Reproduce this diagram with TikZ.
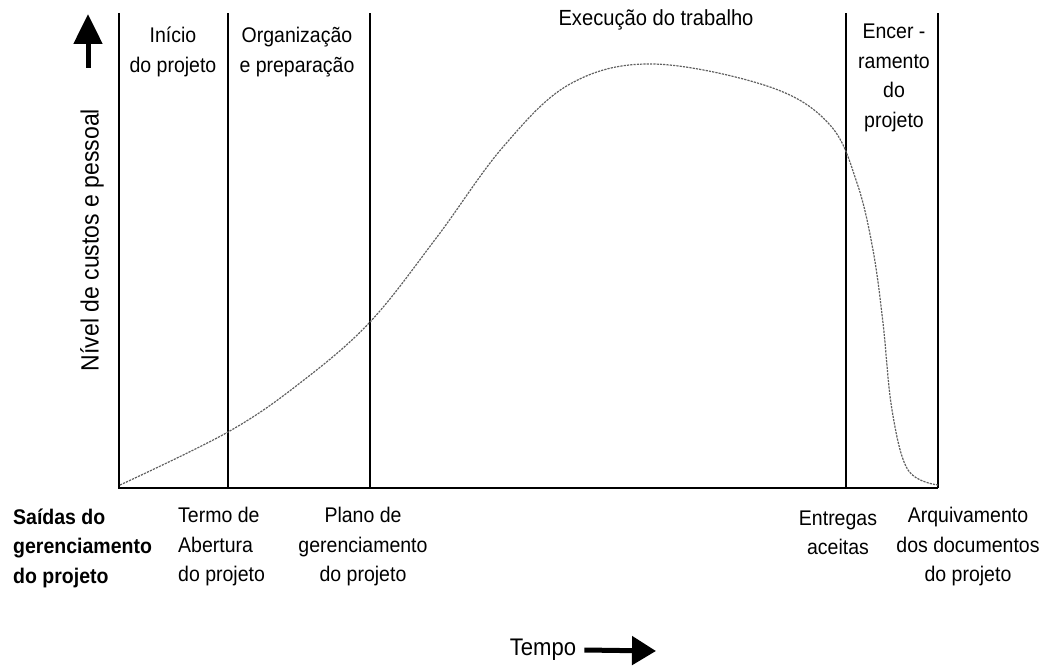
\documentclass[tikz,border=0pt]{standalone}
\usepackage{fontspec}
\setmainfont{Liberation Sans}[FakeStretch=0.92]
\usetikzlibrary{arrows.meta}
\begin{document}
\begin{tikzpicture}[x=1pt,y=1pt,
  frame/.style={line width=1.1pt, black},
  curvestyle/.style={line width=1.2pt, gray!75!black, dash pattern=on 2.2pt off 1.1pt},
  lbl/.style={inner sep=0pt, font=\fontsize{21.2}{29.5}\selectfont, align=center},
  bigarrow/.style={line width=5pt, -{Triangle[length=26pt,width=28pt]}}
]
\useasboundingbox (0,0) rectangle (1052,-666);
% axes and phase lines
\coordinate (o) at (119,-488);
\coordinate (ytop) at (119,-13);
\coordinate (xend) at (938,-488);
\coordinate (l1b) at (228,-488); \coordinate (l1t) at (228,-13);
\coordinate (l2b) at (370,-488); \coordinate (l2t) at (370,-13);
\coordinate (l3b) at (846,-488); \coordinate (l3t) at (846,-13);
\coordinate (l4b) at (938,-488); \coordinate (l4t) at (938,-13);
\draw[frame] (ytop) -- (o) -- (xend);
\draw[frame] (l1b) -- (l1t);
\draw[frame] (l2b) -- (l2t);
\draw[frame] (l3b) -- (l3t);
\draw[frame] (l4b) -- (l4t);
% curve
\draw[curvestyle] plot[smooth, tension=0.6] coordinates {
(120,-485) (228,-432) (300,-383) (370,-322) (437,-237) (503,-147) (570,-84)
(653,-64) (770,-87) (830,-125) (857,-183) (873,-250) (883,-323) (892,-410)
(908,-470) (938,-485)};
% up arrow
\coordinate (ua0) at (88,-68);
\coordinate (ua1) at (88,-14);
\draw[bigarrow, -{Triangle[length=30pt,width=28pt]}] (ua0) -- (ua1);
% phase labels
\node[lbl] (inicio) at (173,-52) {Início\\do projeto};
\node[lbl] (org) at (297,-52) {Organização\\e preparação};
\node[lbl, font=\fontsize{21.9}{29}\selectfont] (exec) at (656,-20) {Execução do trabalho};
\node[lbl] (encer) at (894,-78) {Encer -\\ramento\\do\\projeto};
% y label
\node[lbl, font=\fontsize{25}{28}\selectfont, rotate=90] (nivel) at (92,-240) {Nível de custos e pessoal};
% outputs
\node[lbl, anchor=west, align=left, font=\fontsize{21.2}{29.5}\selectfont\bfseries] (saidas) at (13,-548) {Saídas do\\gerenciamento\\do projeto};
\node[lbl, anchor=west, align=left] (termo) at (178,-547) {Termo de\\Abertura\\do projeto};
\node[lbl] (plano) at (363,-547) {Plano de\\gerenciamento\\do projeto};
\node[lbl] (entregas) at (838,-533) {Entregas\\aceitas};
\node[lbl] (arquivo) at (968,-547) {Arquivamento\\dos documentos\\do projeto};
% time label
\node[lbl, font=\fontsize{24}{27}\selectfont] (tempo) at (543,-650) {Tempo};
\coordinate (ta1) at (656,-651);
\draw[bigarrow, -{Triangle[length=24pt,width=28pt]}] ([xshift=8pt]tempo.east) -- (ta1);
\end{tikzpicture}
\end{document}
